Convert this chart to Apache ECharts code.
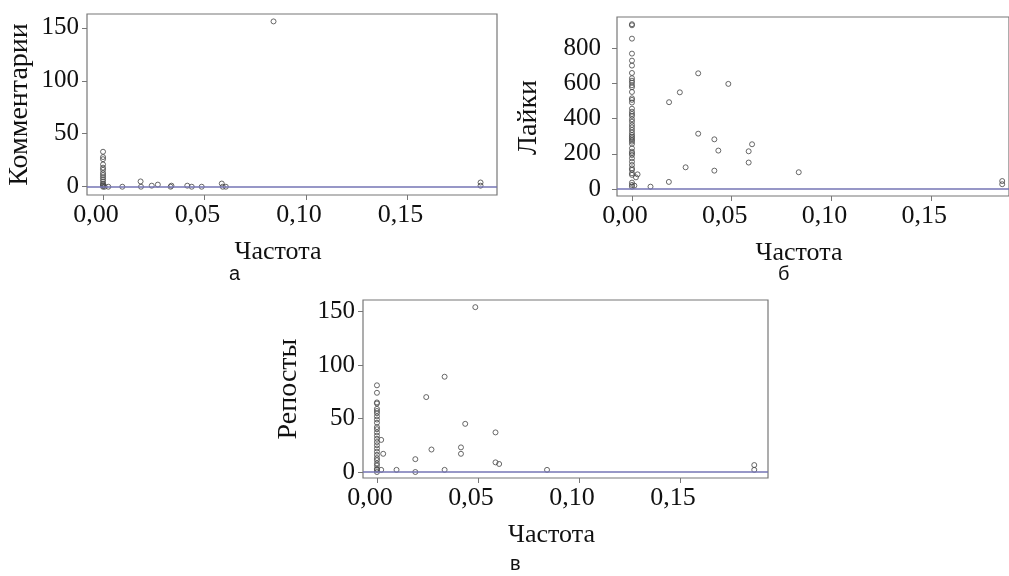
<!DOCTYPE html>
<html>
<head>
<meta charset="utf-8">
<script src="https://cdn.jsdelivr.net/npm/echarts@6/dist/echarts.min.js"></script>
<style>
  html, body { margin: 0; padding: 0; background: #fff; }
  #main { width: 1009px; height: 576px; }
</style>
</head>
<body>
<div id="main"></div>
<script>
// частота и комментарии (а)
var freqA = [0, 0, 0, 0, 0, 0, 0, 0, 0, 0, 0, 0, 0, 0, 0,
  0.0008, 0.0026, 0.0095, 0.0185, 0.0187, 0.024, 0.027, 0.0333, 0.0337, 0.0415,
  0.0437, 0.0486, 0.0585, 0.059, 0.0605, 0.084, 0.186, 0.186];
var commentsA = [33, 28, 26, 21, 18, 16, 13, 11, 9, 7, 5, 3, 2, 1, 0,
  0, 0, 0, 5, 0, 1, 2, 0, 1, 1,
  0, 0, 3, 0, 0, 156, 1, 4];

// лайки (б)
var freqB = [0, 0, 0, 0, 0, 0, 0, 0, 0, 0, 0, 0, 0, 0, 0, 0, 0, 0, 0, 0, 0, 0, 0,
  0, 0, 0, 0, 0, 0, 0, 0, 0, 0, 0, 0, 0, 0, 0, 0, 0, 0, 0, 0, 0, 0, 0,
  0.0028, 0.002, 0.0012, 0.0093, 0.0185, 0.0332, 0.0483, 0.024, 0.0186, 0.0332,
  0.0413, 0.0433, 0.0602, 0.0585, 0.0585, 0.0269, 0.0413, 0.0836, 0.1856, 0.1856];
var likesB = [936, 930, 854, 769, 729, 701, 659, 629, 615, 604, 589, 578, 551, 515, 506, 491, 456, 439, 426, 415, 396, 382, 364,
  350, 335, 320, 307, 297, 288, 278, 269, 256, 231, 212, 203, 193, 174, 155, 136, 117, 108, 89, 80, 36, 23, 13,
  83, 66, 19, 13, 40, 657, 597, 549, 493, 314,
  282, 218, 254, 214, 150, 123, 104, 95, 45, 27];

// репосты (в)
var freqC = [0, 0, 0, 0, 0, 0, 0, 0, 0, 0, 0, 0, 0, 0, 0, 0, 0, 0, 0, 0, 0, 0, 0, 0, 0, 0, 0,
  0.0021, 0.0031, 0.0021, 0.0097, 0.019, 0.019, 0.0244, 0.027, 0.0335, 0.0335,
  0.0437, 0.0416, 0.0416, 0.0487, 0.0587, 0.0587, 0.0605, 0.0842, 0.1868, 0.1868];
var repostsC = [81, 74, 65, 64, 59, 57, 55, 52, 49, 46, 42, 40, 37, 34, 31, 28, 25, 22, 19, 16, 13, 11, 8, 6, 3, 2, 0,
  30, 17, 2, 2, 0, 12, 70, 21, 89, 2,
  45, 23, 17, 154, 37, 9, 7.5, 2, 6.5, 2];

var freqTicks = [0, 0.05, 0.10, 0.15];
var commentTicks = [0, 50, 100, 150];
var likeTicks = [0, 200, 400, 600, 800];
var repostTicks = [0, 50, 100, 150];

var xTitle = 'Частота';
var yTitles = ['Комментарии', 'Лайки', 'Репосты'];
var panelLabels = ['а', 'б', 'в'];

function zip(xs, ys) {
  return xs.map(function (x, i) { return [x, ys[i]]; });
}

var serif = 'Liberation Serif';

function xAxis(idx, min, max) {
  return {
    type: 'value', gridIndex: idx, min: min, max: max,
    name: xTitle, nameLocation: 'middle', nameGap: 44,
    nameTextStyle: { fontFamily: serif, fontSize: 26, color: '#111', padding: [0, 28, 0, 0] },
    axisLine: { show: false, onZero: false },
    splitLine: { show: false },
    axisTick: { show: true, length: 5, customValues: freqTicks, lineStyle: { color: '#777' } },
    axisLabel: {
      customValues: freqTicks, margin: 7, fontFamily: serif, fontSize: 26, color: '#111',
      padding: [0, 14, 0, 0],
      formatter: function (v) { return v.toFixed(2).replace('.', ','); }
    }
  };
}

function yAxis(idx, min, max, ticks, title, gap, margin, namePad) {
  return {
    type: 'value', gridIndex: idx, min: min, max: max,
    name: title, nameLocation: 'middle', nameGap: gap,
    nameTextStyle: { fontFamily: serif, fontSize: 28, color: '#111', padding: namePad },
    axisLine: { show: false, onZero: false },
    splitLine: { show: false },
    axisTick: { show: true, length: 5, customValues: ticks, lineStyle: { color: '#777' } },
    axisLabel: { customValues: ticks, margin: margin, fontFamily: serif, fontSize: 25, color: '#111' }
  };
}

function scatter(idx, data) {
  return {
    type: 'scatter', xAxisIndex: idx, yAxisIndex: idx,
    data: data,
    symbol: 'circle', symbolSize: 5,
    itemStyle: { color: 'rgba(255,255,255,0)', borderColor: '#444', borderWidth: 1 },
    markLine: {
      silent: true, symbol: 'none', label: { show: false },
      lineStyle: { color: '#7474b4', width: 1.5, type: 'solid' },
      data: [{ yAxis: 0 }]
    }
  };
}

var boxStyle = { show: true, borderColor: '#777', borderWidth: 1.2, backgroundColor: 'transparent' };

var myChart = echarts.init(document.getElementById('main'));

option = {
  backgroundColor: '#fff',
  animation: false,
  grid: [
    Object.assign({ left: 87, top: 14, width: 410, height: 181 }, boxStyle),
    Object.assign({ left: 617, top: 17, width: 395, height: 179 }, boxStyle),
    Object.assign({ left: 363, top: 300, width: 405, height: 178 }, boxStyle)
  ],
  xAxis: [
    xAxis(0, -0.0079, 0.1941),
    xAxis(1, -0.0075, 0.189),
    xAxis(2, -0.0069, 0.1936)
  ],
  yAxis: [
    yAxis(0, -7.8, 163, commentTicks, yTitles[0], 53, 8, 0),
    yAxis(1, -40, 977, likeTicks, yTitles[1], 74, 16, [0, 22, 0, 0]),
    yAxis(2, -5.6, 160.7, repostTicks, yTitles[2], 60, 8, 0)
  ],
  graphic: [
    { type: 'text', left: 229, top: 264, style: { text: panelLabels[0], font: '20px "Liberation Sans"', fill: '#111' } },
    { type: 'text', left: 778, top: 264, style: { text: panelLabels[1], font: '20px "Liberation Sans"', fill: '#111' } },
    { type: 'text', left: 510, top: 554, style: { text: panelLabels[2], font: '20px "Liberation Sans"', fill: '#111' } }
  ],
  series: [
    scatter(0, zip(freqA, commentsA)),
    scatter(1, zip(freqB, likesB)),
    scatter(2, zip(freqC, repostsC))
  ]
};

myChart.setOption(option);
</script>
</body>
</html>
